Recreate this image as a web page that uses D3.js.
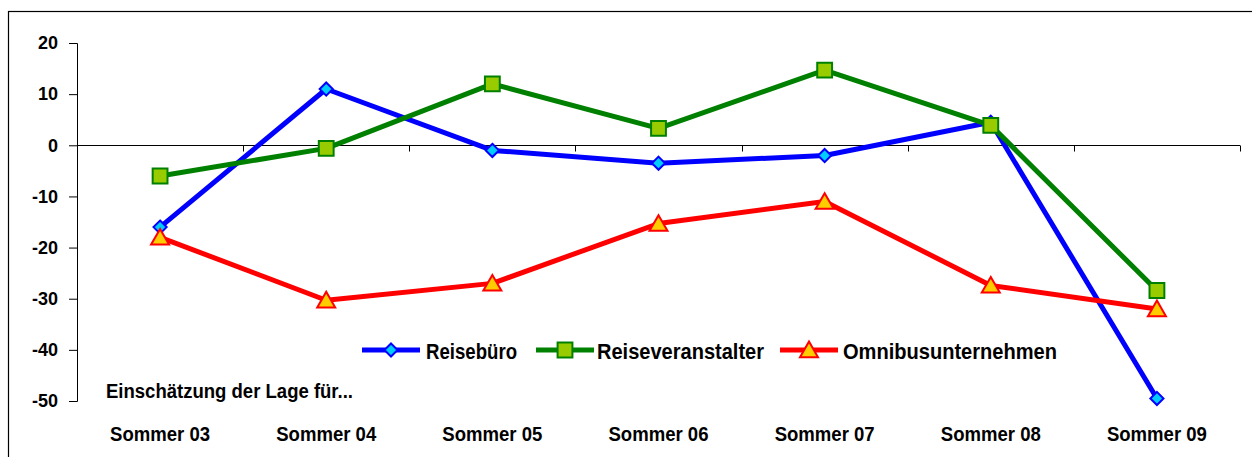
<!DOCTYPE html>
<html>
<head>
<meta charset="utf-8">
<script src="https://cdn.jsdelivr.net/npm/d3@7"></script>
<style>
  body { margin: 0; background: #fff; }
  text { font-family: "Liberation Sans", Arial, sans-serif; font-weight: bold; fill: #000; }
</style>
</head>
<body>
<div id="chart"></div>
<script>
var categories = ["Sommer 03", "Sommer 04", "Sommer 05", "Sommer 06", "Sommer 07", "Sommer 08", "Sommer 09"];
var reisebuero = [-16, 11, -1, -3.5, -2, 4.5, -49.5];
var reiseveranstalter = [-6, -0.6, 12, 3.3, 14.7, 3.9, -28.4];
var omnibus = [-18, -30.3, -27, -15.3, -11, -27.4, -32];
var yTicks = [20, 10, 0, -10, -20, -30, -40, -50];
var seriesNames = ["Reisebüro", "Reiseveranstalter", "Omnibusunternehmen"];

var width = 1252, height = 457;

//series styles
var series = [
    {name: seriesNames[0], values: reisebuero, line: "#0000ff", fill: "#00ccff", stroke: "#0000ff", shape: "diamond"},
    {name: seriesNames[1], values: reiseveranstalter, line: "#008000", fill: "#99cc00", stroke: "#008000", shape: "square"},
    {name: seriesNames[2], values: omnibus, line: "#ff0000", fill: "#ffcc00", stroke: "#ff0000", shape: "triangle"}
];

var svg = d3.select("#chart").append("svg")
    .attr("width", width)
    .attr("height", height);

//outer frame, runs off the right and bottom edge
svg.append("rect")
    .attr("x", 8.5).attr("y", 11.5)
    .attr("width", 1260).attr("height", 460)
    .attr("fill", "none").attr("stroke", "#000").attr("stroke-width", 1.2);

var plotLeft = 77, plotRight = 1240;
var x = d3.scaleBand().domain(categories).range([plotLeft, plotRight]);
var y = d3.scaleLinear().domain([-50, 20]).range([401, 43]);

//y axis
var axisY = svg.append("g")
    .attr("transform", "translate(" + plotLeft + ",0)")
    .call(d3.axisLeft(y).tickValues(yTicks).tickSize(8).tickPadding(11).tickFormat(d3.format("d")));
axisY.select(".domain").attr("stroke", "#000").attr("stroke-width", 1);
axisY.selectAll(".tick line").attr("stroke", "#000");
axisY.selectAll("text")
    .style("font-size", "18px")
    .text(function (d) { return d < 0 ? "-" + Math.abs(d) : d; });

//x axis line at zero, tick marks between categories
var zeroY = Math.round(y(0)) + 0.5;
svg.append("line")
    .attr("x1", plotLeft).attr("x2", plotRight)
    .attr("y1", zeroY).attr("y2", zeroY)
    .attr("stroke", "#000").attr("stroke-width", 1);
var boundaries = categories.map(function (c) { return x(c); }).concat([plotRight]);
svg.selectAll(".xtick")
    .data(boundaries)
    .enter().append("line")
    .attr("class", "xtick")
    .attr("x1", function (d) { return Math.round(d) + 0.5; })
    .attr("x2", function (d) { return Math.round(d) + 0.5; })
    .attr("y1", zeroY).attr("y2", zeroY + 6)
    .attr("stroke", "#000");

//category labels at the bottom, squeezed to the condensed look of the original
svg.selectAll(".xlabel")
    .data(categories)
    .enter().append("text")
    .attr("class", "xlabel")
    .attr("x", function (d) { return x(d) + x.bandwidth() / 2 - 50; })
    .attr("y", 441)
    .attr("textLength", 100)
    .attr("lengthAdjust", "spacingAndGlyphs")
    .style("font-size", "21px")
    .text(function (d) { return d; });

svg.append("text")
    .attr("x", 106).attr("y", 398)
    .attr("textLength", 247)
    .attr("lengthAdjust", "spacingAndGlyphs")
    .style("font-size", "19.5px")
    .text("Einschätzung der Lage für...");

function symbolPath(shape) {
    if (shape === "diamond") return d3.symbol().type(d3.symbolDiamond2).size(110)();
    if (shape === "square") return d3.symbol().type(d3.symbolSquare).size(220)();
    return d3.symbol().type(d3.symbolTriangle).size(140)();
}

var line = d3.line()
    .x(function (d, i) { return x(categories[i]) + x.bandwidth() / 2; })
    .y(function (d) { return y(d); });

series.forEach(function (s) {
    svg.append("path")
        .datum(s.values)
        .attr("d", line)
        .attr("fill", "none")
        .attr("stroke", s.line)
        .attr("stroke-width", 5)
        .attr("stroke-linejoin", "round");
});

series.forEach(function (s) {
    svg.selectAll(".m-" + s.shape)
        .data(s.values)
        .enter().append("path")
        .attr("class", "m-" + s.shape)
        .attr("d", symbolPath(s.shape))
        .attr("transform", function (d, i) {
            var dy = s.shape === "triangle" ? 2 : 0;
            return "translate(" + (x(categories[i]) + x.bandwidth() / 2) + "," + (y(d) + dy) + ")";
        })
        .attr("fill", s.fill)
        .attr("stroke", s.stroke)
        .attr("stroke-width", 2);
});

//legend
var legendPos = [{lx: 362, tx: 426, w: 91}, {lx: 536, tx: 597, w: 167}, {lx: 780, tx: 843, w: 214}];
var legendY = 350;
series.forEach(function (s, i) {
    var g = svg.append("g");
    g.append("line")
        .attr("x1", legendPos[i].lx).attr("x2", legendPos[i].lx + 58)
        .attr("y1", legendY).attr("y2", legendY)
        .attr("stroke", s.line).attr("stroke-width", 5);
    g.append("path")
        .attr("d", symbolPath(s.shape))
        .attr("transform", "translate(" + (legendPos[i].lx + 29) + "," + (legendY + (s.shape === "triangle" ? 2 : 0)) + ")")
        .attr("fill", s.fill)
        .attr("stroke", s.stroke)
        .attr("stroke-width", 2);
    g.append("text")
        .attr("x", legendPos[i].tx).attr("y", legendY + 9)
        .attr("textLength", legendPos[i].w)
        .attr("lengthAdjust", "spacingAndGlyphs")
        .style("font-size", "22px")
        .text(s.name);
});
</script>
</body>
</html>
